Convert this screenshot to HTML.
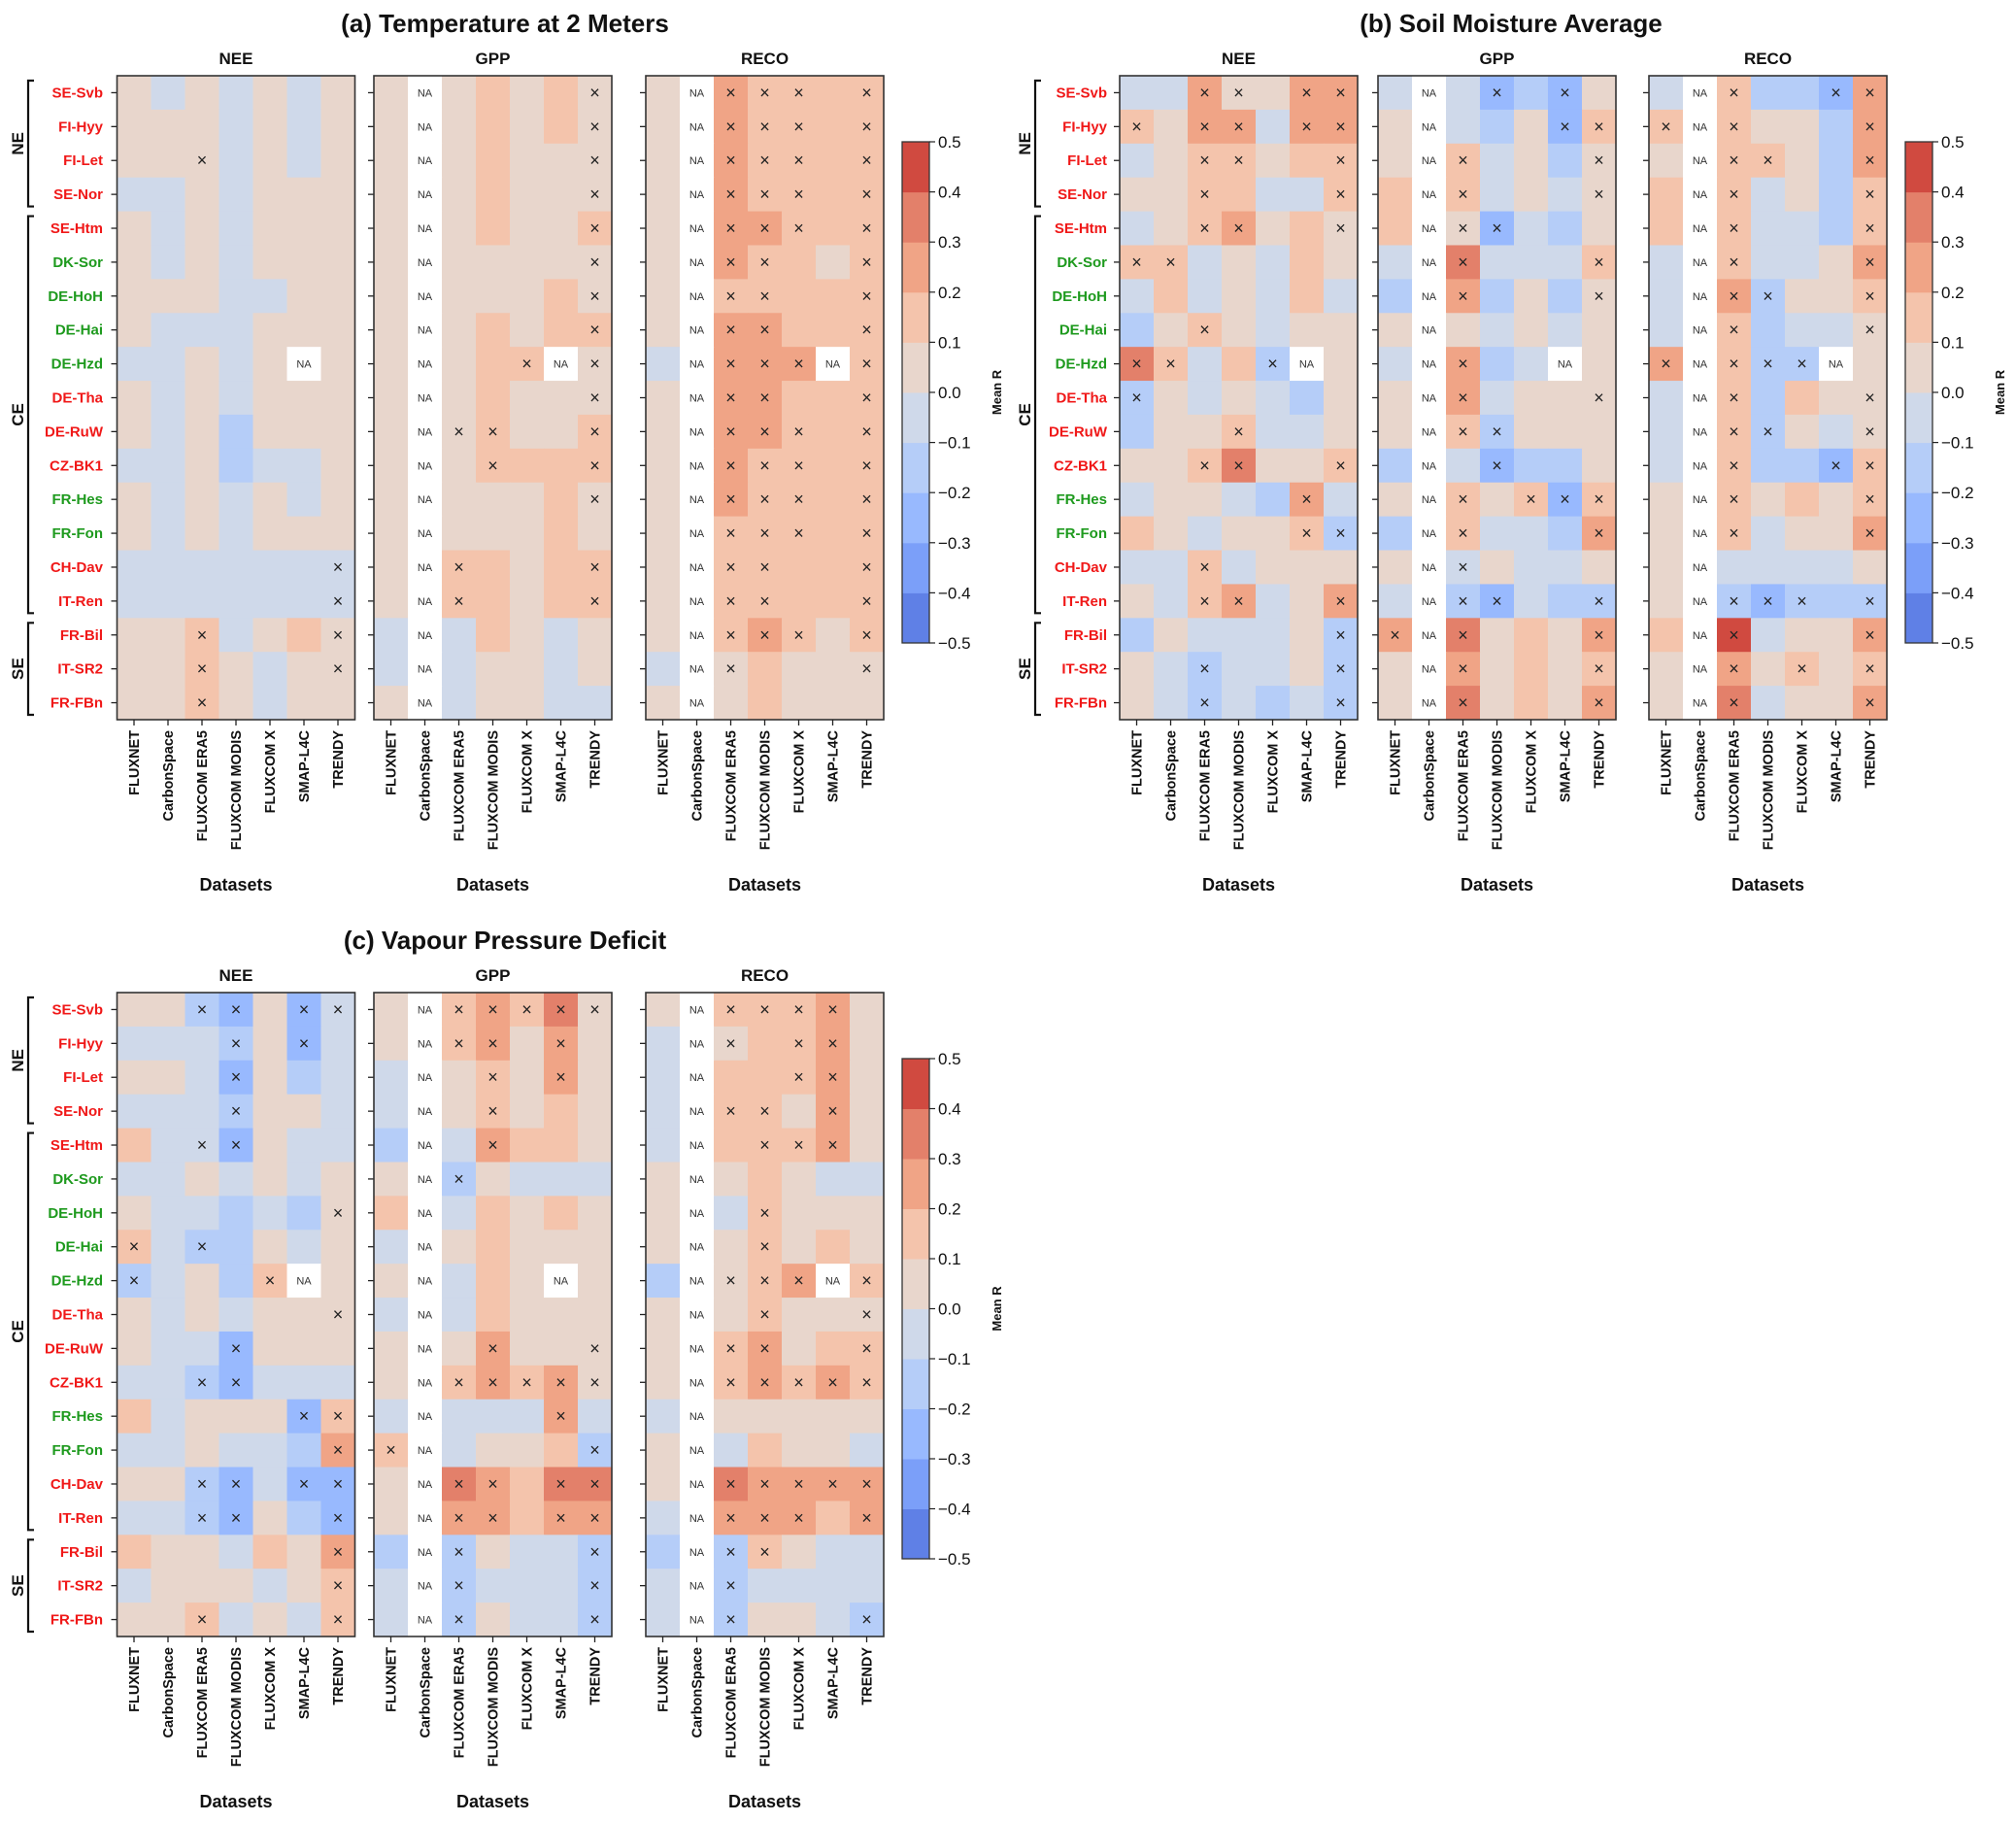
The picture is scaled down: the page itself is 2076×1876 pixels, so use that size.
<!DOCTYPE html>
<html><head><meta charset="utf-8"><style>
html,body{margin:0;padding:0;background:#fff;}
svg{display:block;font-family:"Liberation Sans","DejaVu Sans",sans-serif;}
</style></head><body>
<svg id="fig" width="2076" height="1876" viewBox="0 0 2076 1876" xmlns="http://www.w3.org/2000/svg"></svg>
<script>
const sites = ["SE-Svb","FI-Hyy","FI-Let","SE-Nor","SE-Htm","DK-Sor","DE-HoH","DE-Hai","DE-Hzd","DE-Tha","DE-RuW","CZ-BK1","FR-Hes","FR-Fon","CH-Dav","IT-Ren","FR-Bil","IT-SR2","FR-FBn"];
const siteGreen = ["DK-Sor","DE-HoH","DE-Hai","DE-Hzd","FR-Hes","FR-Fon"];
const datasets = ["FLUXNET","CarbonSpace","FLUXCOM ERA5","FLUXCOM MODIS","FLUXCOM X","SMAP-L4C","TRENDY"];
const fluxes = ["NEE","GPP","RECO"];
const panelTitles = ["(a) Temperature at 2 Meters","(b) Soil Moisture Average","(c) Vapour Pressure Deficit"];
const cbTicks = [0.5,0.4,0.3,0.2,0.1,0.0,-0.1,-0.2,-0.3,-0.4,-0.5];
const N = null;
// Panel a
const aNEE = [[.05,-.05,.05,-.05,.05,-.05,.05],[.05,.05,.05,-.05,.05,-.05,.05],[.05,.05,.05,-.05,.05,-.05,.05],[-.05,-.05,.05,-.05,.05,.05,.05],[.05,-.05,.05,-.05,.05,.05,.05],[.05,-.05,.05,-.05,.05,.05,.05],[.05,.05,.05,-.05,-.05,.05,.05],[.05,-.05,-.05,-.05,.05,.05,.05],[-.05,-.05,.05,-.05,.05,N,.05],[.05,-.05,.05,-.05,.05,.05,.05],[.05,-.05,.05,-.15,.05,.05,.05],[-.05,-.05,.05,-.15,-.05,-.05,.05],[.05,-.05,.05,-.05,.05,-.05,.05],[.05,-.05,.05,-.05,.05,.05,.05],[-.05,-.05,-.05,-.05,-.05,-.05,-.05],[-.05,-.05,-.05,-.05,-.05,-.05,-.05],[.05,.05,.15,-.05,.05,.15,.05],[.05,.05,.15,.05,-.05,.05,.05],[.05,.05,.15,.05,-.05,.05,.05]];
const aNEEsig = ["0000000","0000000","0010000","0000000","0000000","0000000","0000000","0000000","0000000","0000000","0000000","0000000","0000000","0000000","0000001","0000001","0010001","0010001","0010000"];
const aGPP = [[.05,N,.05,.15,.05,.15,.05],[.05,N,.05,.15,.05,.15,.05],[.05,N,.05,.15,.05,.05,.05],[.05,N,.05,.15,.05,.05,.05],[.05,N,.05,.15,.05,.05,.15],[.05,N,.05,.05,.05,.05,.05],[.05,N,.05,.05,.05,.15,.05],[.05,N,.05,.15,.05,.15,.15],[.05,N,.05,.15,.15,N,.05],[.05,N,.05,.15,.05,.05,.05],[.05,N,.05,.15,.05,.05,.15],[.05,N,.05,.15,.15,.15,.15],[.05,N,.05,.05,.05,.15,.05],[.05,N,.05,.05,.05,.15,.05],[.05,N,.15,.15,.05,.15,.15],[.05,N,.15,.15,.05,.15,.15],[-.05,N,-.05,.15,.05,-.05,.05],[-.05,N,-.05,.05,.05,-.05,.05],[.05,N,-.05,.05,.05,-.05,-.05]];
const aGPPsig = ["0000001","0000001","0000001","0000001","0000001","0000001","0000001","0000001","0000101","0000001","0011001","0001001","0000001","0000000","0010001","0010001","0000000","0000000","0000000"];
const aRECO = [[.05,N,.25,.15,.15,.15,.15],[.05,N,.25,.15,.15,.15,.15],[.05,N,.25,.15,.15,.15,.15],[.05,N,.25,.15,.15,.15,.15],[.05,N,.25,.25,.15,.15,.15],[.05,N,.25,.15,.15,.05,.15],[.05,N,.15,.15,.15,.15,.15],[.05,N,.25,.25,.15,.15,.15],[-.05,N,.25,.25,.25,N,.15],[.05,N,.25,.25,.15,.15,.15],[.05,N,.25,.25,.15,.15,.15],[.05,N,.25,.15,.15,.15,.15],[.05,N,.25,.15,.15,.15,.15],[.05,N,.15,.15,.15,.15,.15],[.05,N,.15,.15,.15,.15,.15],[.05,N,.15,.15,.15,.15,.15],[.05,N,.15,.25,.15,.05,.15],[-.05,N,.05,.15,.05,.05,.05],[.05,N,.05,.15,.05,.05,.05]];
const aRECOsig = ["0011101","0011101","0011101","0011101","0011101","0011001","0011001","0011001","0011101","0011001","0011101","0011101","0011101","0011101","0011001","0011001","0011101","0010001","0000000"];
// Panel b
const bNEE = [[-.05,-.05,.25,.05,.05,.25,.25],[.15,.05,.25,.25,-.05,.25,.25],[-.05,.05,.15,.15,.05,.15,.15],[.05,.05,.15,.15,-.05,-.05,.15],[-.05,.05,.15,.25,.05,.15,.05],[.15,.15,-.05,.05,-.05,.15,.05],[-.05,.15,-.05,.05,-.05,.15,-.05],[-.15,.05,.15,.05,-.05,.05,.05],[.35,.15,-.05,.15,-.15,N,.05],[-.15,.05,-.05,.05,-.05,-.15,.05],[-.15,.05,.05,.15,-.05,-.05,.05],[.05,.05,.15,.35,.05,.05,.15],[-.05,.05,.05,-.05,-.15,.25,-.05],[.15,.05,-.05,.05,.05,.15,-.15],[-.05,-.05,.15,-.05,.05,.05,.05],[.05,-.05,.15,.25,-.05,.05,.25],[-.15,.05,-.05,-.05,-.05,.05,-.15],[.05,-.05,-.15,-.05,-.05,.05,-.15],[.05,-.05,-.15,-.05,-.15,-.05,-.15]];
const bNEEsig = ["0011011","1011011","0011001","0010001","0011001","1100000","0000000","0010000","1100100","1000000","0001000","0011001","0000010","0000011","0010000","0011001","0000001","0010001","0010001"];
const bGPP = [[-.05,N,-.05,-.25,-.15,-.25,.05],[.05,N,-.05,-.15,.05,-.25,.15],[.05,N,.15,-.05,.05,-.15,.05],[.15,N,.15,-.05,.05,-.05,.05],[.15,N,.05,-.25,-.05,-.15,.05],[-.05,N,.35,-.05,-.05,-.05,.15],[-.15,N,.25,-.15,.05,-.15,.05],[.05,N,.05,-.05,.05,-.05,.05],[-.05,N,.25,-.15,-.05,N,.05],[.05,N,.25,-.05,.05,.05,.05],[.05,N,.15,-.15,.05,.05,.05],[-.15,N,-.05,-.25,-.15,-.15,.05],[.05,N,.15,.05,.15,-.25,.15],[-.15,N,.15,-.05,-.05,-.15,.25],[.05,N,-.05,.05,-.05,-.05,.05],[-.05,N,-.15,-.25,-.05,-.15,-.15],[.25,N,.35,.05,.15,.05,.25],[.05,N,.25,.05,.15,.05,.15],[.05,N,.35,.05,.15,.05,.25]];
const bGPPsig = ["0001010","0000011","0010001","0010001","0011000","0010001","0010001","0000000","0010000","0010001","0011000","0001000","0010111","0010001","0010000","0011001","1010001","0010001","0010001"];
const bRECO = [[-.05,N,.15,-.15,-.15,-.25,.25],[.15,N,.15,.05,.05,-.15,.25],[.05,N,.15,.15,.05,-.15,.25],[.15,N,.15,-.05,.05,-.15,.15],[.15,N,.15,-.05,-.05,-.15,.15],[-.05,N,.15,-.05,-.05,.05,.25],[-.05,N,.25,-.15,.05,.05,.15],[-.05,N,.15,-.15,-.05,-.05,.05],[.25,N,.15,-.15,-.15,N,.05],[-.05,N,.15,-.15,.15,.05,.05],[-.05,N,.15,-.15,.05,-.05,.05],[-.05,N,.15,-.15,-.15,-.25,.15],[.05,N,.15,.05,.15,.05,.15],[.05,N,.15,-.05,.05,.05,.25],[.05,N,-.05,-.05,-.05,-.05,.05],[.05,N,-.15,-.25,-.15,-.15,-.15],[.15,N,.45,-.05,.05,.05,.25],[.05,N,.25,.05,.15,.05,.15],[.05,N,.35,-.05,.05,.05,.25]];
const bRECOsig = ["0010011","1010001","0011001","0010001","0010001","0010001","0011001","0010001","1011100","0010001","0011001","0010011","0010001","0010001","0000000","0011101","0010001","0010101","0010001"];
// Panel c
const cNEE = [[.05,.05,-.15,-.25,.05,-.25,-.05],[-.05,-.05,-.05,-.15,.05,-.25,-.05],[.05,.05,-.05,-.25,.05,-.15,-.05],[-.05,-.05,-.05,-.15,.05,.05,-.05],[.15,-.05,-.05,-.25,.05,-.05,-.05],[-.05,-.05,.05,-.05,.05,-.05,.05],[.05,-.05,-.05,-.15,-.05,-.15,.05],[.15,-.05,-.15,-.15,.05,-.05,.05],[-.15,-.05,.05,-.15,.15,N,.05],[.05,-.05,.05,-.05,.05,.05,.05],[.05,-.05,-.05,-.25,.05,.05,.05],[-.05,-.05,-.15,-.25,-.05,-.05,-.05],[.15,-.05,.05,.05,.05,-.25,.15],[-.05,-.05,.05,-.05,-.05,-.15,.25],[.05,.05,-.15,-.25,-.05,-.25,-.25],[-.05,-.05,-.15,-.25,.05,-.15,-.25],[.15,.05,.05,-.05,.15,.05,.25],[-.05,.05,.05,.05,-.05,.05,.15],[.05,.05,.15,-.05,.05,-.05,.15]];
const cNEEsig = ["0011011","0001010","0001000","0001000","0011000","0000000","0000001","1010000","1000100","0000001","0001000","0011000","0000011","0000001","0011011","0011001","0000001","0000001","0010001"];
const cGPP = [[.05,N,.15,.25,.15,.35,.05],[.05,N,.15,.25,.05,.25,.05],[-.05,N,.05,.15,.05,.25,.05],[-.05,N,.05,.15,.05,.15,.05],[-.15,N,-.05,.25,.15,.15,.05],[.05,N,-.15,.05,-.05,-.05,-.05],[.15,N,-.05,.15,.05,.15,.05],[-.05,N,.05,.15,.05,.05,.05],[.05,N,-.05,.15,.05,N,.05],[-.05,N,-.05,.15,.05,.05,.05],[.05,N,.05,.25,.05,.05,.05],[.05,N,.15,.25,.15,.25,.05],[-.05,N,-.05,-.05,-.05,.25,-.05],[.15,N,-.05,.05,.05,.15,-.15],[.05,N,.35,.25,.15,.35,.35],[.05,N,.25,.25,.15,.25,.25],[-.15,N,-.15,.05,-.05,-.05,-.15],[-.05,N,-.15,-.05,-.05,-.05,-.15],[-.05,N,-.15,.05,-.05,-.05,-.15]];
const cGPPsig = ["0011111","0011010","0001010","0001000","0001000","0010000","0000000","0000000","0000000","0000000","0001001","0011111","0000010","1000001","0011011","0011011","0010001","0010001","0010001"];
const cRECO = [[.05,N,.15,.15,.15,.25,.05],[-.05,N,.05,.15,.15,.25,.05],[-.05,N,.15,.15,.15,.25,.05],[-.05,N,.15,.15,.05,.25,.05],[-.05,N,.15,.15,.15,.25,.05],[.05,N,.05,.15,.05,-.05,-.05],[.05,N,-.05,.15,.05,.05,.05],[.05,N,.05,.15,.05,.15,.05],[-.15,N,.05,.15,.25,N,.15],[.05,N,.05,.15,.05,.05,.05],[.05,N,.15,.25,.05,.15,.15],[.05,N,.15,.25,.15,.25,.15],[-.05,N,.05,.05,.05,.05,.05],[.05,N,-.05,.15,.05,.05,-.05],[.05,N,.35,.25,.25,.25,.25],[-.05,N,.25,.25,.25,.15,.25],[-.15,N,-.15,.15,.05,-.05,-.05],[-.05,N,-.15,-.05,-.05,-.05,-.05],[-.05,N,-.15,.05,.05,-.05,-.15]];
const cRECOsig = ["0011110","0010110","0000110","0011010","0001110","0000000","0001000","0001000","0011101","0001001","0011001","0011111","0000000","0000000","0011111","0011101","0011000","0010000","0010001"];

const svg = document.getElementById('fig');
const NS = "http://www.w3.org/2000/svg";
function el(tag, attrs, parent){ const e=document.createElementNS(NS,tag); for(const k in attrs) e.setAttribute(k,attrs[k]); (parent||svg).appendChild(e); return e; }
const binColors = ["#5f80e6","#7b9ff9","#98b9fe","#b5cdf8","#cfd9ea","#e8d6cc","#f4c4ac","#f0a486","#e3806a","#d04a40"];
function colorOf(v){ let i=Math.floor((v+0.5)/0.1); if(i<0)i=0; if(i>9)i=9; return binColors[i]; }

const panels = [
 {t:panelTitles[0], cx:520, ty:24, xs:[120.5,385,665], y0:78, y1:741, lab:106, br:29, grpx:18, cbx:929, cby0:146, cby1:662, data:[[aNEE,aNEEsig],[aGPP,aGPPsig],[aRECO,aRECOsig]]},
 {t:panelTitles[1], cx:1556, ty:24, xs:[1153,1419,1698], y0:78, y1:741, lab:1140, br:1066, grpx:1055, cbx:1962, cby0:146, cby1:662, data:[[bNEE,bNEEsig],[bGPP,bGPPsig],[bRECO,bRECOsig]]},
 {t:panelTitles[2], cx:520, ty:968, xs:[120.5,385,665], y0:1022, y1:1685, lab:106, br:29, grpx:18, cbx:929, cby0:1090, cby1:1605, data:[[cNEE,cNEEsig],[cGPP,cGPPsig],[cRECO,cRECOsig]]}
];
const W = 245;

panels.forEach((p,pi)=>{
  const g = el('g',{});
  
  
  const tt = el('text',{x:p.cx,y:p.ty+9,'text-anchor':'middle','font-size':26,'font-weight':'bold',fill:'#111'},g);
  tt.textContent = p.t;
  
  
  const rh = (p.y1-p.y0)/sites.length, cw = W/datasets.length;
  p.data.forEach((d,hi)=>{
    const vals=d[0], sig=d[1], x0=p.xs[hi];
    const hg = el('g',{},g);
    
    
    const st = el('text',{x:x0+W/2,y:p.y0-12,'text-anchor':'middle','font-size':17,'font-weight':'bold',fill:'#111'},hg);
    st.textContent = fluxes[hi];
    
    
    for(let r=0;r<sites.length;r++){
      for(let c=0;c<datasets.length;c++){
        const v=vals[r][c], x=x0+c*cw, y=p.y0+r*rh;
        const rc = el('rect',{x:x,y:y,width:cw+0.6,height:rh+0.6,fill: v===null?'#ffffff':colorOf(v)},hg);
        
        
        if(v===null){
          const t=el('text',{x:x+cw/2,y:y+rh/2+4,'text-anchor':'middle','font-size':11,fill:'#333'},hg);
          t.textContent='NA';
          
          
        } else if(sig[r][c]==='1'){
          const t=el('text',{x:x+cw/2,y:y+rh/2+6,'text-anchor':'middle','font-size':18,fill:'#222'},hg);
          t.textContent='×';
          
          
        }
      }
      el('line',{x1:x0-6,x2:x0,y1:p.y0+(r+0.5)*rh,y2:p.y0+(r+0.5)*rh,stroke:'#222','stroke-width':1.3},hg);
    }
    el('rect',{x:x0,y:p.y0,width:W,height:p.y1-p.y0,fill:'none',stroke:'#333','stroke-width':1.6},hg);
    for(let c=0;c<datasets.length;c++){
      const x=x0+(c+0.5)*cw;
      el('line',{x1:x,x2:x,y1:p.y1,y2:p.y1+6,stroke:'#222','stroke-width':1.3},hg);
      const t=el('text',{x:0,y:0,'text-anchor':'end','font-size':14.5,'font-weight':'bold',fill:'#111',transform:`translate(${x+5},${p.y1+11}) rotate(-90)`},hg);
      t.textContent=datasets[c];
      
      
    }
    const xl=el('text',{x:x0+W/2,y:p.y1+176,'text-anchor':'middle','font-size':18,'font-weight':'bold',fill:'#111'},hg);
    xl.textContent='Datasets';
    
    
  });
  // row labels
  sites.forEach((s,r)=>{
    const t=el('text',{x:p.lab,y:p.y0+(r+0.5)*rh+5,'text-anchor':'end','font-size':15,'font-weight':'bold',fill: siteGreen.includes(s)?'#1e9a1e':'#f01818'},g);
    t.textContent=s;
    
    
  });
  // group brackets
  [["NE",0,3],["CE",4,15],["SE",16,18]].forEach(([nm,a,b])=>{
    const ya=p.y0+a*rh+5, yb=p.y0+(b+1)*rh-5;
    el('path',{d:`M${p.br+6},${ya} H${p.br} V${yb} H${p.br+6}`,fill:'none',stroke:'#111','stroke-width':2.2},g);
    const t=el('text',{x:0,y:0,'text-anchor':'middle','font-size':17,'font-weight':'bold',fill:'#111',transform:`translate(${p.grpx+6},${(ya+yb)/2}) rotate(-90)`},g);
    t.textContent=nm;
    
    
  });
  // colorbar
  const cb=el('g',{},g);
  
  
  const ch=(p.cby1-p.cby0)/10;
  for(let i=0;i<10;i++){
    el('rect',{x:p.cbx,y:p.cby1-(i+1)*ch,width:28,height:ch+0.5,fill:binColors[i]},cb);
  }
  el('rect',{x:p.cbx,y:p.cby0,width:28,height:p.cby1-p.cby0,fill:'none',stroke:'#333','stroke-width':1.3},cb);
  cbTicks.forEach(v=>{
    const y=p.cby0+(0.5-v)/1.0*(p.cby1-p.cby0);
    el('line',{x1:p.cbx+28,x2:p.cbx+34,y1:y,y2:y,stroke:'#222','stroke-width':1.2},cb);
    const t=el('text',{x:p.cbx+37,y:y+6,'font-size':17,fill:'#111'},cb);
    t.textContent=(v<0?'−':'')+Math.abs(v).toFixed(1);
    
    
  });
  const ml=el('text',{x:0,y:0,'text-anchor':'middle','font-size':13,'font-weight':'bold',fill:'#111',transform:`translate(${p.cbx+102},${(p.cby0+p.cby1)/2}) rotate(-90)`},cb);
  ml.textContent='Mean R';
  
  
});
</script>
</body></html>
